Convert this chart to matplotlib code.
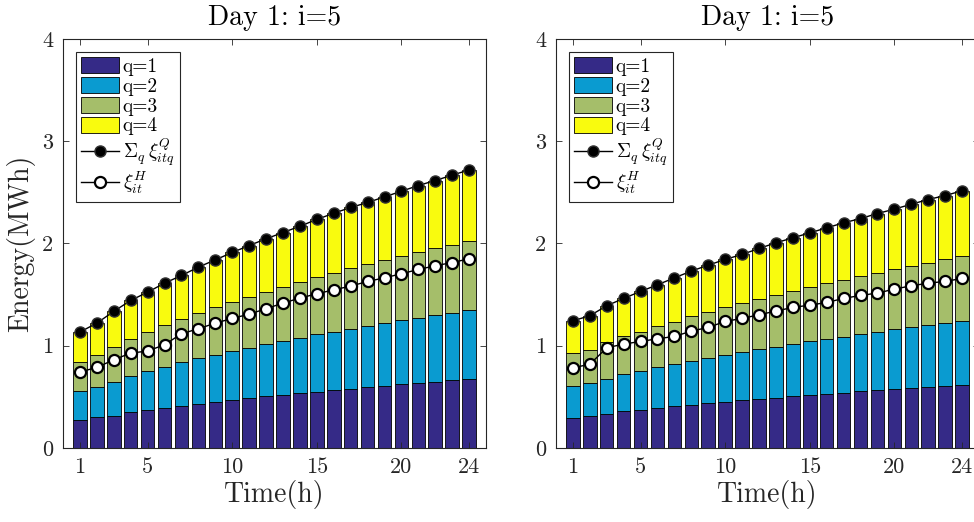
import numpy as np
import matplotlib
matplotlib.use('Agg')
import matplotlib.pyplot as plt

plt.rcParams['font.family'] = ['cmr10', 'DejaVu Serif']
plt.rcParams['mathtext.fontset'] = 'cm'
plt.rcParams['axes.formatter.use_mathtext'] = True

hours = np.arange(1, 25)
xticks = [1, 5, 10, 15, 20, 24]
yticks = [0, 1, 2, 3, 4]
q_labels = ['q=1', 'q=2', 'q=3', 'q=4']
q_colors = ['#352a87', '#0a9bd0', '#a5be6a', '#f9fb0e']

# left panel
left_q1 = [0.270, 0.300, 0.316, 0.352, 0.375, 0.394, 0.414, 0.430, 0.453, 0.472, 0.492, 0.505,
           0.521, 0.537, 0.550, 0.570, 0.580, 0.593, 0.609, 0.622, 0.635, 0.648, 0.661, 0.674]
left_q2 = [0.290, 0.296, 0.329, 0.352, 0.374, 0.401, 0.423, 0.446, 0.459, 0.476, 0.488, 0.508,
           0.528, 0.541, 0.561, 0.567, 0.586, 0.602, 0.612, 0.626, 0.639, 0.652, 0.661, 0.675]
left_q3 = [0.284, 0.310, 0.345, 0.361, 0.385, 0.407, 0.424, 0.440, 0.463, 0.479, 0.499, 0.511,
           0.524, 0.544, 0.560, 0.576, 0.590, 0.603, 0.616, 0.628, 0.641, 0.651, 0.668, 0.680]
left_q4 = [0.290, 0.315, 0.346, 0.378, 0.390, 0.410, 0.426, 0.453, 0.465, 0.485, 0.501, 0.522,
           0.534, 0.547, 0.564, 0.583, 0.596, 0.603, 0.619, 0.635, 0.652, 0.665, 0.678, 0.691]
left_H = [0.743, 0.788, 0.863, 0.928, 0.948, 1.010, 1.117, 1.166, 1.221, 1.267, 1.309, 1.362,
          1.417, 1.466, 1.508, 1.547, 1.583, 1.629, 1.664, 1.704, 1.746, 1.782, 1.814, 1.850]

# right panel
right_q1 = [0.296, 0.313, 0.332, 0.358, 0.371, 0.391, 0.407, 0.423, 0.436, 0.453, 0.466, 0.482,
            0.492, 0.505, 0.518, 0.531, 0.541, 0.554, 0.570, 0.577, 0.586, 0.596, 0.609, 0.619]
right_q2 = [0.310, 0.322, 0.342, 0.365, 0.381, 0.401, 0.414, 0.427, 0.443, 0.456, 0.472, 0.485,
            0.498, 0.511, 0.524, 0.534, 0.547, 0.560, 0.567, 0.583, 0.596, 0.609, 0.616, 0.625]
right_q3 = [0.319, 0.323, 0.359, 0.371, 0.385, 0.403, 0.414, 0.440, 0.450, 0.469, 0.476, 0.489,
            0.505, 0.518, 0.531, 0.544, 0.554, 0.564, 0.576, 0.589, 0.597, 0.606, 0.619, 0.629]
right_q4 = [0.319, 0.335, 0.358, 0.369, 0.394, 0.401, 0.429, 0.440, 0.459, 0.466, 0.479, 0.495,
            0.512, 0.521, 0.531, 0.544, 0.560, 0.566, 0.580, 0.587, 0.605, 0.619, 0.625, 0.642]
right_H = [0.785, 0.818, 0.980, 1.016, 1.042, 1.068, 1.091, 1.143, 1.179, 1.238, 1.267, 1.303,
           1.339, 1.375, 1.397, 1.423, 1.463, 1.492, 1.515, 1.554, 1.586, 1.612, 1.629, 1.658]

fig = plt.figure(figsize=(9.74, 5.22), dpi=100)
axl = fig.add_axes([0.0647, 0.1418, 0.4343, 0.7835])
axr = fig.add_axes([0.5708, 0.1418, 0.4343, 0.7835])

ax_color = '#262626'


def draw(ax, layers, H, ylabel):
    bottom = np.zeros(len(hours))
    for vals, c, lab in zip(layers, q_colors, q_labels):
        ax.bar(hours, vals, 0.8, bottom=bottom, color=c, edgecolor='k', linewidth=0.6, label=lab)
        bottom = bottom + np.array(vals)
    ax.plot(hours, bottom, '-o', color='k', lw=1.0, ms=8, mfc='k', mec='#333333', mew=1.0,
            label=r'$\Sigma_q\,\xi_{itq}^Q$')
    ax.plot(hours, H, '-o', color='k', lw=1.0, ms=8, mfc='white', mec='k', mew=1.6,
            label=r'$\xi_{it}^H$')
    ax.set_xlim(0, 25)
    ax.set_ylim(0, 4)
    ax.set_xticks(xticks)
    ax.set_xticklabels([str(t) for t in xticks])
    ax.set_yticks(yticks)
    ax.set_yticklabels([str(t) for t in yticks])
    ax.tick_params(direction='in', top=True, right=True, length=4, width=0.6,
                   colors=ax_color, labelsize=16, pad=7)
    for sp in ax.spines.values():
        sp.set_color(ax_color)
        sp.set_linewidth(0.8)
    ax.set_title('Day 1: i=5', fontsize=20, pad=10)
    ax.set_xlabel('Time(h)', fontsize=20, color=ax_color, labelpad=2)
    if ylabel:
        ax.set_ylabel('Energy(MWh)', fontsize=20, color=ax_color, labelpad=5)
    h, l = ax.get_legend_handles_labels()
    order = [2, 3, 4, 5, 0, 1]
    leg = ax.legend([h[i] for i in order], [l[i] for i in order],
                    loc='upper left', fontsize=14, handlelength=1.95, handleheight=0.87,
                    handletextpad=0.17, labelspacing=0.06, borderaxespad=0.65, borderpad=0.3,
                    fancybox=False, framealpha=1, edgecolor=ax_color)
    leg.get_frame().set_linewidth(0.8)


draw(axl, [left_q1, left_q2, left_q3, left_q4], left_H, True)
draw(axr, [right_q1, right_q2, right_q3, right_q4], right_H, False)

fig.savefig('out.png', dpi=100)
